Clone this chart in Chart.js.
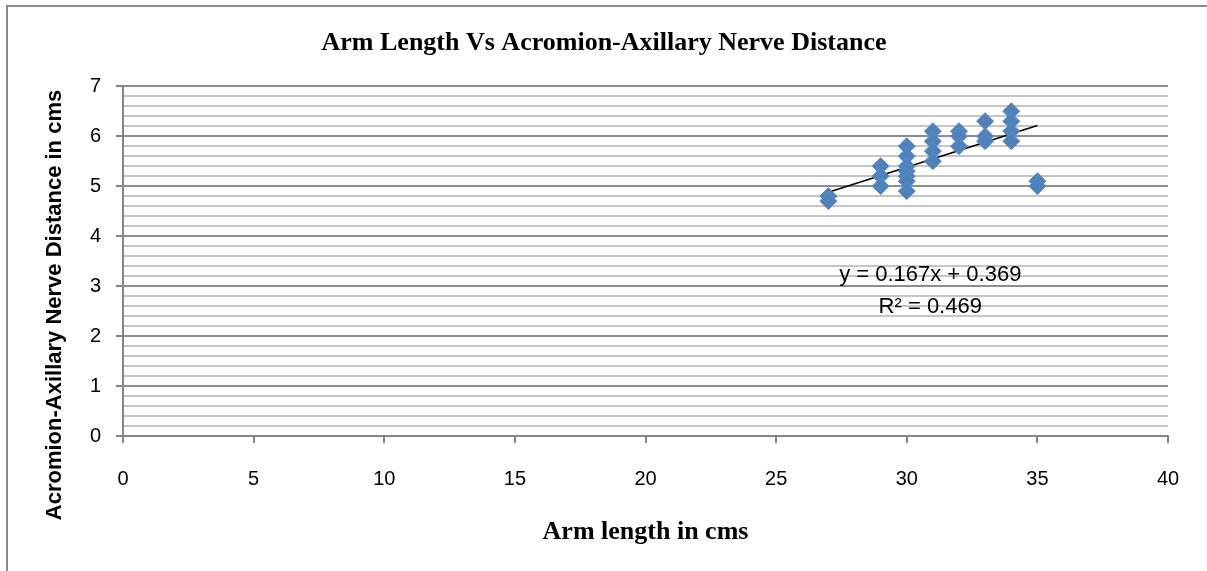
<!DOCTYPE html>
<html>
<head>
<meta charset="utf-8">
<script src="https://cdn.jsdelivr.net/npm/chart.js@4.4.0/dist/chart.umd.min.js"></script>
<style>
  html, body { margin: 0; padding: 0; background: #fff; overflow: hidden; }
  #wrap { position: relative; width: 1207px; height: 571px; }
  #frame { position: absolute; left: 6px; top: 5px; width: 1300px; height: 700px; border: 2px solid #8a8a8a; }
  #chart { position: absolute; left: 0; top: 0; }
</style>
</head>
<body>
<div id="wrap">
  <div id="frame"></div>
  <canvas id="chart" width="1207" height="571"></canvas>
</div>
<script>
// arm length (cm) and acromion-axillary nerve distance (cm), one entry per subject
const armLength = [
  27, 27,
  29, 29, 29,
  30, 30, 30, 30, 30, 30, 30,
  31, 31, 31, 31,
  32, 32, 32,
  33, 33, 33,
  34, 34, 34, 34,
  35, 35
];
const nerveDistance = [
  4.8, 4.7,
  5.4, 5.2, 5.0,
  5.8, 5.6, 5.4, 5.3, 5.2, 5.1, 4.9,
  6.1, 5.9, 5.7, 5.5,
  6.1, 6.0, 5.8,
  6.3, 6.0, 5.9,
  6.5, 6.3, 6.1, 5.9,
  5.1, 5.0
];

// linear trendline as printed on the chart
const trendSlope = 0.167;
const trendIntercept = 0.369;
const trendRange = [27, 35];
const trendLabels = ["y = 0.167x + 0.369", "R\u00b2 = 0.469"];
const yAxisTitle = "Acromion-Axillary Nerve Distance in cms";

const points = armLength.map((x, i) => ({ x: x, y: nerveDistance[i] }));
const trendPoints = trendRange.map(x => ({ x: x, y: trendSlope * x + trendIntercept }));

const isMajor = v => Math.abs(v - Math.round(v)) < 1e-6;

// equation text next to the trendline, and the y title (sits lower than the plot centre in the original)
const extraTextPlugin = {
  id: "extraText",
  afterDatasetsDraw(chart) {
    const { ctx, scales } = chart;
    const cx = scales.x.getPixelForValue(30.9);
    ctx.save();
    ctx.fillStyle = "#000";
    ctx.font = '22px "Liberation Sans"';
    ctx.textAlign = "center";
    ctx.textBaseline = "middle";
    ctx.fillText(trendLabels[0], cx, scales.y.getPixelForValue(3.22));
    ctx.fillText(trendLabels[1], cx, scales.y.getPixelForValue(2.58));

    ctx.translate(55, 305);
    ctx.rotate(-Math.PI / 2);
    ctx.font = 'bold 22px "Liberation Sans"';
    ctx.fillText(yAxisTitle, 0, 0);
    ctx.restore();
  }
};

new Chart(document.getElementById("chart"), {
  type: "scatter",
  data: {
    datasets: [
      {
        label: "Distance",
        data: points,
        pointStyle: "rectRot",
        pointRadius: 8.5,
        pointHoverRadius: 8.5,
        backgroundColor: "#4f81bd",
        borderColor: "#5b8cc8",
        borderWidth: 1
      },
      {
        label: "Linear",
        type: "line",
        data: trendPoints,
        borderColor: "#000",
        borderWidth: 1.5,
        pointRadius: 0,
        fill: false
      }
    ]
  },
  options: {
    responsive: false,
    animation: false,
    layout: { padding: { left: 40, right: 39, top: 20, bottom: 20 } },
    plugins: {
      legend: { display: false },
      tooltip: { enabled: false },
      title: {
        display: true,
        text: "Arm Length Vs Acromion-Axillary Nerve Distance",
        color: "#000",
        font: { family: '"Liberation Serif"', size: 26, weight: "bold" },
        padding: { top: 8, bottom: 27 }
      }
    },
    scales: {
      x: {
        type: "linear",
        min: 0,
        max: 40,
        ticks: { stepSize: 5, color: "#000", padding: 24, font: { family: '"Liberation Sans"', size: 20 } },
        grid: { drawOnChartArea: false, tickLength: 7, tickColor: "#868686", lineWidth: 2 },
        border: { color: "#868686", width: 2 },
        title: {
          display: true,
          text: "Arm length in cms",
          color: "#000",
          font: { family: '"Liberation Serif"', size: 26, weight: "bold" },
          padding: { top: 0, bottom: 3 }
        },
        afterFit: s => { s.height = 115; }
      },
      y: {
        min: 0,
        max: 7,
        ticks: {
          stepSize: 0.2,
          autoSkip: false,
          color: "#000",
          padding: 15,
          font: { family: '"Liberation Sans"', size: 20 },
          callback: v => (isMajor(v) ? Math.round(v) : "")
        },
        grid: {
          tickLength: 7,
          lineWidth: 2,
          color: c => (isMajor(c.tick.value) ? "#8e8e8e" : "#c6c6c6"),
          tickColor: c => (isMajor(c.tick.value) ? "#868686" : "rgba(0,0,0,0)")
        },
        border: { color: "#868686", width: 2 },
        afterFit: s => { s.width = 83; }
      }
    }
  },
  plugins: [extraTextPlugin]
});
</script>
</body>
</html>
